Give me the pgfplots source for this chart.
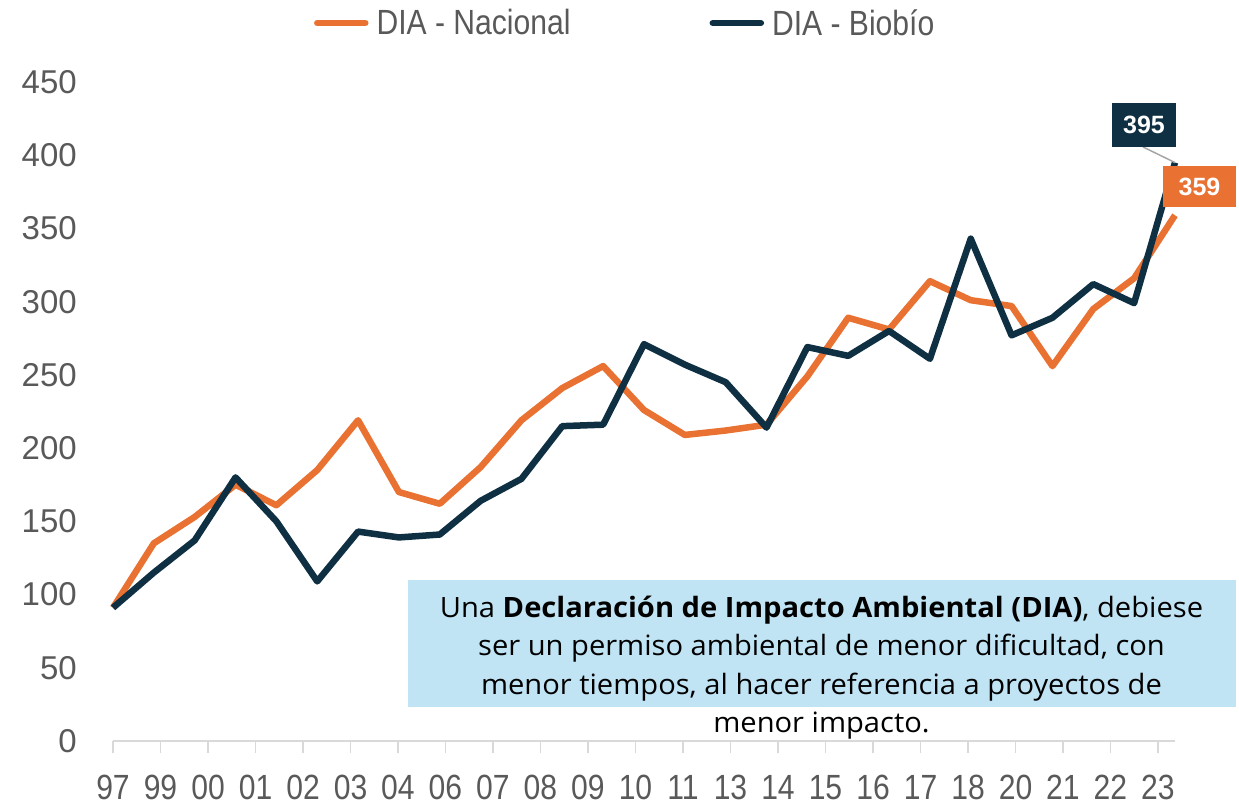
\documentclass[border=0pt]{standalone}
\usepackage{pgfplots}
\pgfplotsset{compat=1.18}
\usepackage{fontspec}
\setmainfont{Liberation Sans}
\newfontfamily\narrowfont[FakeStretch=0.86]{Liberation Sans}
\newfontfamily\boxfont[FakeStretch=1.04]{Open Sans}

\definecolor{dianac}{HTML}{E97132}
\definecolor{diabio}{HTML}{0E3042}
\definecolor{labelgray}{HTML}{595959}
\definecolor{axisgray}{HTML}{D9D9D9}
\definecolor{boxblue}{HTML}{C1E4F5}

\begin{document}
\begin{tikzpicture}
% frame in image pixels (y downwards), axis origin at (113,741)
\begin{scope}[x=1pt, y=-1pt, shift={(-113pt,741pt)}]
\path[use as bounding box] (0,0) rectangle (1239,806);
\fill[boxblue] (408,580) rectangle (1236,707);
\end{scope}

\begin{axis}[
    scale only axis,
    width=1062pt, height=659pt,
    xmin=0, xmax=26,
    ymin=0, ymax=450,
    axis x line=bottom,
    axis y line=left,
    x axis line style={-, draw=axisgray, line width=2pt},
    y axis line style={draw=none},
    xtick={0,1.163,2.326,3.489,4.652,5.815,6.977,8.140,9.303,10.466,11.629,12.792,13.955,15.118,16.281,17.444,18.607,19.770,20.933,22.096,23.258,24.421,25.584},
    xticklabels={97,99,00,01,02,03,04,06,07,08,09,10,11,13,14,15,16,17,18,20,21,22,23},
    ytick={0,50,...,450},
    /pgf/number format/assume math mode=true,
    tick align=outside,
    major tick length=12pt,
    xtick style={draw=axisgray, line width=1.5pt},
    ytick style={draw=none},
    xticklabel style={font=\narrowfont\fontsize{35}{40}\selectfont, text=labelgray,
        anchor=north, inner sep=0pt, yshift=-22pt},
    yticklabel style={font=\fontsize{33}{38}\selectfont, text=labelgray,
        anchor=east, inner sep=0pt, xshift=-24pt},
    clip=false,
    legend columns=2,
    legend style={draw=none, fill=none, inner sep=0pt, outer sep=0pt,
        at={(rel axis cs:0.1893,1.0895)}, anchor=west,
        font=\narrowfont\fontsize{35}{40}\selectfont, text=labelgray,
        nodes={inner sep=0pt},
        column sep=8pt,
        /tikz/every even column/.append style={column sep=139pt}},
    legend image code/.code={\draw[#1, line cap=round] (0pt,0pt) -- (48pt,0pt);},
]

\addplot[dianac, line width=6.5pt, line join=round] coordinates {
    (0,91) (1,135) (2,153) (3,175) (4,161) (5,185) (6,219) (7,170) (8,162)
    (9,187) (10,219) (11,241) (12,256) (13,226) (14,209) (15,212) (16,216)
    (17,249) (18,289) (19,281) (20,314) (21,301) (22,297) (23,256) (24,295)
    (25,316) (26,359)
};
\addlegendentry{DIA - Nacional}

\addplot[diabio, line width=6.5pt, line join=round] coordinates {
    (0,91) (1,115) (2,137) (3,180) (4,150) (5,109) (6,143) (7,139) (8,141)
    (9,164) (10,179) (11,215) (12,216) (13,271) (14,257) (15,245) (16,214)
    (17,269) (18,263) (19,280) (20,261) (21,343) (22,277) (23,289) (24,312)
    (25,299) (26,395)
};
\addlegendentry{DIA - Biobío}

% data labels
\draw[gray!70, line width=1.5pt] ([shift={(-32pt,15.6pt)}]axis cs:26,395) -- (axis cs:26,395);
\node[fill=diabio, text=white, minimum width=64pt, minimum height=44pt, inner sep=0pt,
    font=\bfseries\fontsize{25}{28}\selectfont] at ([shift={(-31pt,37.6pt)}]axis cs:26,395) {395};
\node[fill=dianac, text=white, minimum width=73pt, minimum height=41pt, inner sep=0pt,
    font=\bfseries\fontsize{25}{28}\selectfont] at ([shift={(24.5pt,28.8pt)}]axis cs:26,359) {359};
\end{axis}

\begin{scope}[x=1pt, y=-1pt, shift={(-113pt,741pt)}]
\begin{scope}[every node/.style={anchor=base, inner sep=0pt, font=\boxfont\fontsize{28}{31}\selectfont}]
\node at (821.5,617) {Una \textbf{Declaración de Impacto Ambiental (DIA)}, debiese};
\node at (821.5,655.5) {ser un permiso ambiental de menor dificultad, con};
\node at (821.5,694) {menor tiempos, al hacer referencia a proyectos de};
\node at (821.5,732.5) {menor impacto.};
\end{scope}
\end{scope}
\end{tikzpicture}
\end{document}
